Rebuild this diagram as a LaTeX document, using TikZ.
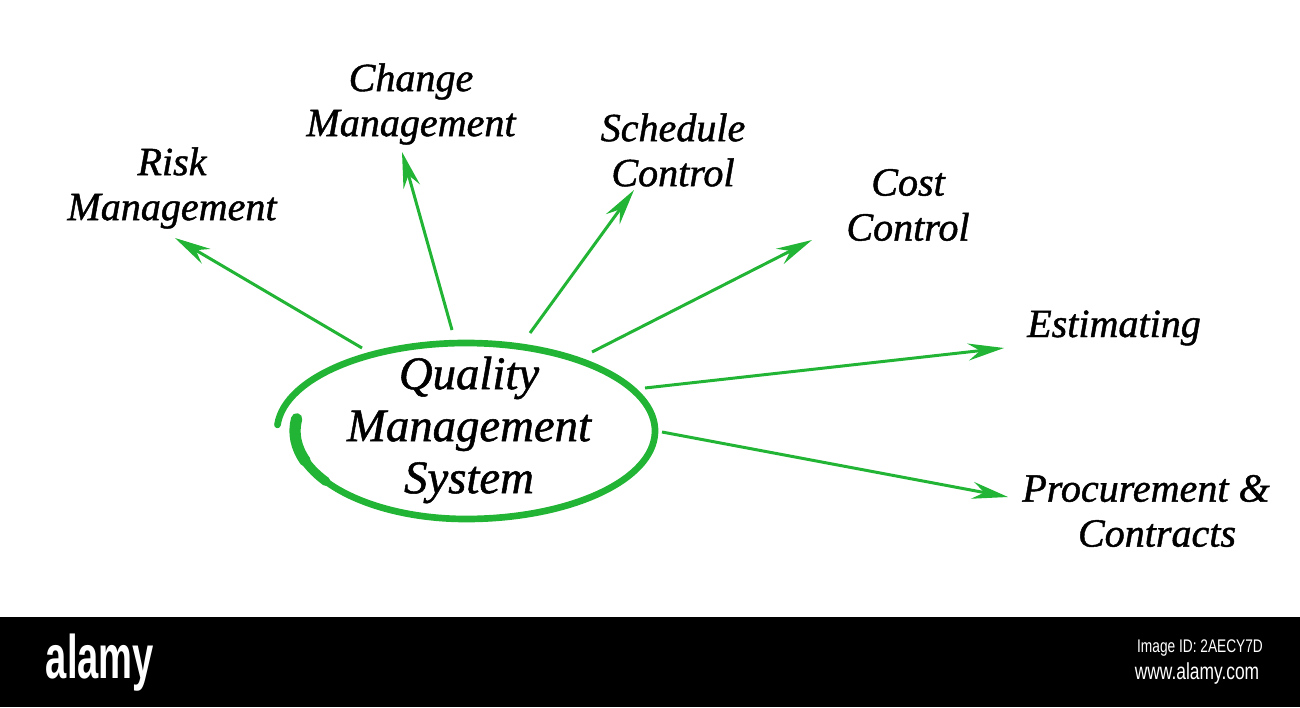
\documentclass[tikz,border=0pt]{standalone}
\usepackage{fontspec}
\setmainfont{Liberation Serif}[ItalicFeatures={FakeBold=1.1}]
\newfontfamily\markfont{Liberation Sans}
\usetikzlibrary{arrows.meta, positioning}
\definecolor{qmsgreen}{RGB}{34,180,52}
\tikzset{topic/.style={align=center, font=\fontsize{11.4}{12.8}\selectfont\itshape}}
\tikzset{hub/.style={align=center, font=\fontsize{13.3}{14.8}\selectfont\itshape}}
\tikzset{ray/.style={-{Stealth[length=3.6mm, width=1.7mm, inset=1.2mm]}, qmsgreen, line width=0.85pt}}
\tikzset{ring/.style={qmsgreen, line cap=round}}
\tikzset{footmark/.style={text=white, inner sep=0pt}}

\begin{document}
\begin{tikzpicture}
\useasboundingbox (0,0) rectangle (13,7.07);
\fill[white] (0,0.9) rectangle (13,7.07);
\fill[black] (0,0) rectangle (13,0.9);

\node[hub] (qms) at (4.69,2.77) {Quality\\Management\\System};
\node[topic] (risk) at (1.72,5.19) {Risk\\Management};
\node[topic] (change) at (4.11,6.03) {Change\\Management};
\node[topic] (schedule) at (6.73,5.57) {Schedule\\Control};
\node[topic] (cost) at (9.08,5.02) {Cost\\Control};
\node[topic] (estimating) at (11.14,3.79) {Estimating};
\node[topic] (procurement) at (11.46,1.96) {Procurement \&\\\hspace*{2.2mm}Contracts};

% hand drawn ring round the hub
\draw[ring, line width=1.9pt] (4.66,2.76) ++(176:1.89 and 0.88) arc[start angle=176, end angle=-90, x radius=1.89, y radius=0.88]
  arc[start angle=-90, end angle=-150, x radius=1.71, y radius=0.88];
\draw[ring, line width=2.6pt] (4.66,2.76) ++(-145:1.71 and 0.88) arc[start angle=-145, end angle=-165, x radius=1.71, y radius=0.88];
\draw[ring, line width=3.2pt] (4.66,2.76) ++(-160:1.71 and 0.88) arc[start angle=-160, end angle=-188, x radius=1.71, y radius=0.88];

\coordinate (s1) at (3.62,3.59);
\coordinate (s2) at (4.52,3.77);
\coordinate (s3) at (5.30,3.74);
\coordinate (s4) at (5.92,3.55);
\coordinate (s5) at (6.45,3.19);
\coordinate (s6) at (6.62,2.75);
\coordinate (t1) at (1.75,4.69);
\coordinate (t2) at (4.02,5.55);
\coordinate (t3) at (6.34,5.17);
\coordinate (t4) at (8.12,4.67);
\coordinate (t5) at (10.04,3.59);
\coordinate (t6) at (10.08,2.10);
\foreach \i in {1,...,6} \draw[ray] (s\i) -- (t\i);

% footer
\node[footmark, font=\markfont\bfseries\fontsize{17.5}{17.5}\selectfont, xscale=0.62] (brand) at (1.00,0.44) {alamy};
\node[footmark, font=\markfont\fontsize{5.2}{5.2}\selectfont, xscale=0.75] (imgid) at (12.0,0.59) {Image ID: 2AECY7D};
\node[footmark, font=\markfont\fontsize{6.6}{6.6}\selectfont, xscale=0.75] (site) at (11.97,0.34) {www.alamy.com};
\end{tikzpicture}
\end{document}
